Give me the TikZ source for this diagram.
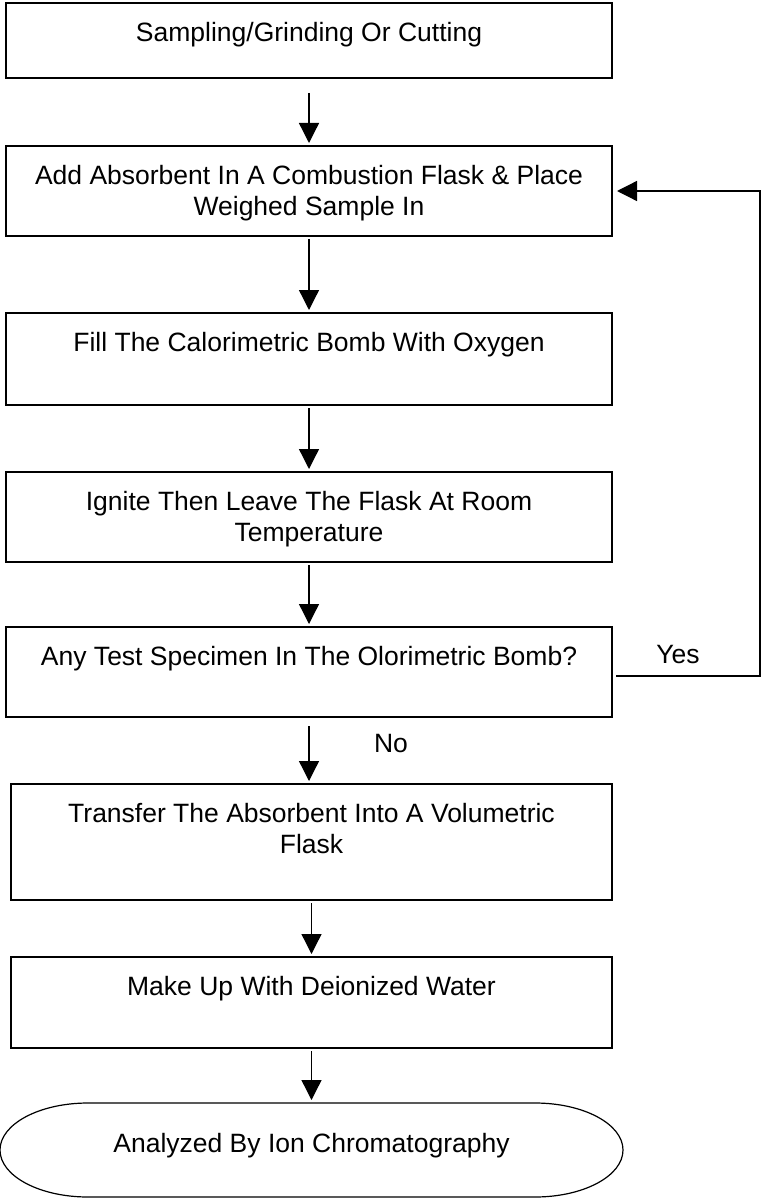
\documentclass[tikz,border=0pt]{standalone}
\usepackage{fontspec}
\setmainfont{Liberation Sans}
\usetikzlibrary{positioning,arrows.meta}

\newcommand{\steptext}[2]{\parbox[c][#1][t]{600pt}{\centering\vspace*{17pt}\strut#2}}

\begin{document}
\begin{tikzpicture}[x=1pt,y=1pt,
    font=\fontsize{26.5pt}{31pt}\selectfont,
    stepbox/.style={draw,line width=1.8pt,inner sep=0pt,outer sep=0pt,minimum width=606pt},
    flow/.style={-{Triangle[width=20pt,length=20pt]},line width=1.3pt,shorten <=3pt,shorten >=3pt}]
    \useasboundingbox (0,0) rectangle (761,-1198);

    \node[stepbox] (sample) at (309,-40.5) {\steptext{75pt}{Sampling/Grinding Or Cutting}};
    \node[stepbox] (add) [below=68pt of sample] {\steptext{90pt}{Add Absorbent In A Combustion Flask \& Place\\Weighed Sample In}};
    \node[stepbox] (fill) [below=77pt of add] {\steptext{92pt}{Fill The Calorimetric Bomb With Oxygen}};
    \node[stepbox] (ignite) [below=67pt of fill] {\steptext{90pt}{Ignite Then Leave The Flask At Room\\Temperature}};
    \node[stepbox] (check) [below=65pt of ignite] {\steptext{90pt}{\vspace*{-4pt}Any Test Specimen In The Olorimetric Bomb?}};
    \node[stepbox,minimum width=601pt] (transfer) [below=67pt of check,xshift=2.5pt] {\steptext{116pt}{Transfer The Absorbent Into A Volumetric\\Flask}};
    \node[stepbox,minimum width=601pt] (makeup) [below=57pt of transfer] {\steptext{91pt}{Make Up With Deionized Water}};
    \node[minimum width=623pt,minimum height=94pt,inner sep=0pt,outer sep=0pt,text height=19.6pt,text depth=14.6pt] (term) [below=55pt of makeup] {Analyzed By Ion Chromatography};
    \draw[line width=1.2pt] ([xshift=88pt]term.north west) -- ([xshift=-88pt]term.north east)
        arc[start angle=90,end angle=-90,x radius=88pt,y radius=47pt] -- ([xshift=88pt]term.south west)
        arc[start angle=270,end angle=90,x radius=88pt,y radius=47pt] -- cycle;

    \draw[flow,shorten <=15pt] (sample.south) -- (sample.south |- add.north);
    \foreach \a/\b in {add/fill,fill/ignite,ignite/check,transfer/makeup,makeup/term}{
        \draw[flow] (\a.south) -- (\a.south |- \b.north);
    }
    \draw[flow,shorten <=9pt] (check.south) -- node[pos=0.39,xshift=82pt] (no) {No} (check.south |- transfer.north);

    % loop back for "Yes"
    \coordinate (loopx) at (760,0);
    \coordinate (yesend) at ([xshift=4pt,yshift=-4pt]check.east);
    \draw[flow,shorten <=0pt,shorten >=5pt] (yesend) -- node[pos=0.43,yshift=21pt] (yes) {Yes} (yesend -| loopx)
        -- (loopx |- add.east) -- (add.east);
\end{tikzpicture}
\end{document}
